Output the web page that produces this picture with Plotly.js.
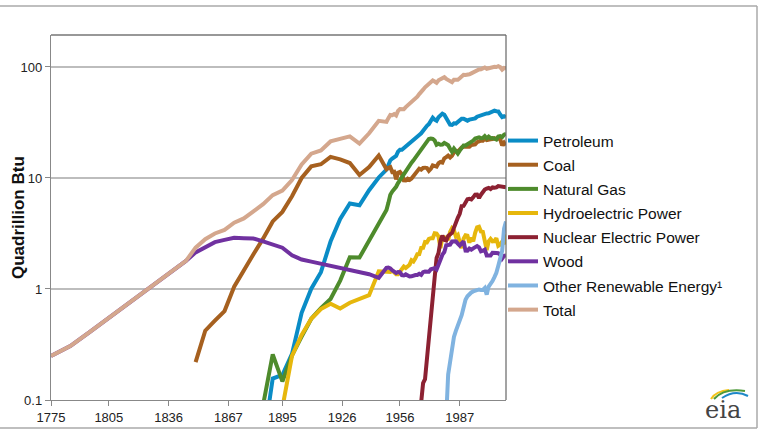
<!DOCTYPE html>
<html>
<head>
<meta charset="utf-8">
<script src="https://cdn.plot.ly/plotly-3.0.1.min.js"></script>
<style>html,body{margin:0;padding:0;background:#fff;}#chart{width:758px;height:432px;}</style>
</head>
<body>
<div id="chart"></div>
<script>
// ---- Years ----
const yearsEarly = [1775, 1785, 1795, 1805, 1815, 1825, 1835, 1845];
const yearsMid = [1850, 1855, 1860, 1865, 1870, 1875, 1880, 1885, 1890, 1895, 1900, 1905, 1910, 1915, 1920, 1925, 1930, 1935, 1940, 1945];
const yearsAnnual = [];
for (let y = 1949; y <= 2011; y++) yearsAnnual.push(y);

// ---- Tick labels ----
const xTickYears = [1775, 1805, 1836, 1867, 1895, 1926, 1956, 1987];
const yTickVals = [0.1, 1, 10, 100];
const yTickText = ['0.1', '1', '10', '100'];

// ---- Series names ----
const seriesNames = ['Petroleum', 'Coal', 'Natural Gas', 'Hydroelectric Power', 'Nuclear Electric Power', 'Wood', 'Other Renewable Energy\u00B9', 'Total'];

// ---- Values (quadrillion Btu) ----
const N = null;
const earlyNone = [N, N, N, N, N, N, N, N];

const petroleumMid = [N, N, 0.003, 0.010, 0.011, 0.011, 0.096, 0.040, 0.156, 0.168, 0.26, 0.610, 1.007, 1.418, 2.676, 4.280, 5.897, 5.675, 7.760, 10.110];
const petroleumAnnual = [
  11.883, 13.315, 14.428, 14.956, 15.556, 15.839, 17.255, 17.937, 17.932, 18.527,
  19.323, 19.919, 20.216, 21.049, 21.701, 22.301, 23.246, 24.401, 25.284, 26.979,
  28.338, 29.521, 30.561, 32.947, 34.840, 33.455, 32.731, 35.175, 37.122, 37.965,
  37.123, 34.202, 31.931, 30.232, 30.054, 31.051, 30.922, 32.196, 32.865, 34.222,
  34.211, 33.552, 32.846, 33.525, 33.745, 34.561, 34.438, 35.675, 36.159, 36.816,
  37.838, 38.262, 38.186, 38.224, 38.811, 40.292, 40.388, 39.955, 39.774, 37.280,
  35.403, 35.970, 35.3];

const coalMid = [0.219, 0.421, 0.518, 0.632, 1.048, 1.440, 2.054, 2.840, 4.062, 4.950, 6.841, 10.001, 12.714, 13.294, 15.504, 14.706, 13.639, 10.634, 12.535, 15.972];
const coalAnnual = [
  11.981, 12.347, 12.553, 11.306, 11.373, 9.715, 11.167, 11.350, 10.821, 9.533,
  9.518, 9.838, 9.623, 9.906, 10.413, 10.964, 11.581, 12.143, 11.914, 12.331,
  12.382, 12.265, 11.598, 12.077, 12.971, 12.663, 12.663, 13.584, 13.922, 13.766,
  15.040, 15.423, 15.908, 15.322, 15.894, 17.071, 17.478, 17.260, 18.008, 18.846,
  19.070, 19.173, 18.992, 19.122, 19.835, 19.909, 20.089, 21.002, 21.445, 21.656,
  21.623, 22.580, 21.914, 21.904, 22.321, 22.466, 22.797, 22.447, 22.749, 22.385,
  19.692, 20.823, 19.7];

const gasMid = [N, N, N, N, N, N, N, 0.09, 0.257, 0.147, 0.252, 0.372, 0.540, 0.673, 0.813, 1.191, 1.932, 1.919, 2.726, 3.973];
const gasAnnual = [
  5.145, 5.968, 7.049, 7.550, 7.907, 8.330, 9.000, 9.614, 10.191, 10.663,
  11.717, 12.385, 12.926, 13.731, 14.403, 15.288, 15.769, 16.995, 17.945, 19.210,
  20.678, 21.795, 22.469, 22.698, 22.512, 21.732, 19.948, 20.345, 19.931, 20.000,
  20.666, 20.235, 19.747, 18.356, 17.221, 18.394, 17.703, 16.591, 17.640, 18.448,
  19.602, 19.603, 20.033, 20.714, 21.229, 21.728, 22.671, 23.085, 23.223, 22.830,
  22.909, 23.824, 22.773, 23.558, 22.831, 22.923, 22.565, 22.239, 23.663, 23.843,
  23.416, 24.575, 24.9];

const hydroMid = [N, N, N, N, N, N, N, N, 0.022, 0.085, 0.250, 0.386, 0.539, 0.659, 0.738, 0.668, 0.752, 0.806, 0.880, 1.442];
const hydroAnnual = [
  1.425, 1.415, 1.424, 1.466, 1.413, 1.360, 1.360, 1.435, 1.516, 1.592,
  1.548, 1.608, 1.656, 1.816, 1.771, 1.886, 2.059, 2.062, 2.347, 2.349,
  2.648, 2.634, 2.824, 2.864, 2.861, 3.177, 3.155, 2.976, 2.333, 2.937,
  2.931, 2.900, 2.758, 3.266, 3.527, 3.386, 2.970, 3.071, 2.635, 2.334,
  2.837, 3.046, 3.016, 2.617, 2.892, 2.683, 3.205, 3.590, 3.640, 3.297,
  3.268, 2.811, 2.242, 2.689, 2.825, 2.690, 2.703, 2.869, 2.446, 2.511,
  2.669, 2.539, 3.1];

const nuclearMid = [N, N, N, N, N, N, N, N, N, N, N, N, N, N, N, N, N, N, N, N];
const nuclearAnnual = [
  N, N, N, N, N, N, N, N, N, 0.002,
  0.002, 0.006, 0.020, 0.026, 0.038, 0.040, 0.043, 0.064, 0.088, 0.142,
  0.154, 0.239, 0.413, 0.584, 0.910, 1.272, 1.900, 2.111, 2.702, 3.024,
  2.776, 2.739, 3.008, 3.131, 3.203, 3.553, 4.076, 4.380, 4.754, 5.587,
  5.602, 6.104, 6.422, 6.479, 6.410, 6.694, 7.075, 7.087, 6.597, 7.068,
  7.610, 7.862, 8.029, 8.145, 7.959, 8.222, 8.161, 8.215, 8.455, 8.427,
  8.356, 8.434, 8.259];

const woodEarly = [0.249, 0.306, 0.409, 0.549, 0.737, 0.990, 1.330, 1.790];
const woodMid = [2.138, 2.389, 2.641, 2.767, 2.893, 2.872, 2.851, 2.683, 2.515, 2.355, 2.015, 1.843, 1.765, 1.688, 1.610, 1.533, 1.455, 1.397, 1.358, 1.261];
const woodAnnual = [
  1.549, 1.562, 1.535, 1.474, 1.419, 1.394, 1.424, 1.416, 1.334, 1.323,
  1.353, 1.320, 1.295, 1.300, 1.323, 1.337, 1.335, 1.369, 1.340, 1.419,
  1.440, 1.431, 1.432, 1.503, 1.529, 1.540, 1.499, 1.713, 1.838, 2.038,
  2.152, 2.474, 2.496, 2.510, 2.684, 2.686, 2.687, 2.562, 2.463, 2.577,
  2.680, 2.216, 2.214, 2.313, 2.260, 2.324, 2.370, 2.437, 2.371, 2.184,
  2.214, 2.262, 2.006, 1.995, 2.002, 2.121, 2.136, 2.109, 2.098, 2.044,
  1.881, 1.986, 2.0];

const otherMid = nuclearMid;
const otherAnnual = [
  N, N, N, N, N, N, N, N, N, N,
  N, N, N, N, N, N, N, N, N, N,
  N, N, N, N, N, N, N, N, N, N,
  0.03, 0.095, 0.17, 0.22, 0.30, 0.37, 0.42, 0.46, 0.52, 0.58,
  0.68, 0.80, 0.86, 0.90, 0.93, 0.95, 0.97, 0.98, 0.99, 0.98,
  0.98, 1.02, 0.89, 1.05, 1.10, 1.18, 1.28, 1.40, 1.62, 1.85,
  2.2, 3.5, 4.05];

const totalEarly = [0.249, 0.306, 0.409, 0.549, 0.737, 0.990, 1.330, 1.790];
const totalMid = [2.357, 2.810, 3.162, 3.409, 3.952, 4.323, 5.001, 5.815, 7.012, 7.705, 9.587, 13.212, 16.565, 17.732, 21.342, 22.378, 23.675, 20.431, 25.259, 32.758];
const totalAnnual = [
  31.982, 34.616, 36.975, 36.748, 37.664, 36.639, 40.208, 41.754, 41.787, 41.645,
  43.466, 45.086, 45.738, 47.826, 49.644, 51.815, 54.015, 57.014, 58.905, 62.415,
  65.620, 67.838, 69.289, 72.676, 75.708, 73.991, 71.965, 75.975, 78.000, 79.986,
  80.903, 78.122, 76.168, 73.157, 73.039, 76.714, 76.491, 76.756, 79.173, 82.819,
  84.944, 84.652, 84.607, 85.956, 87.601, 89.249, 91.173, 94.174, 94.761, 95.184,
  96.817, 98.975, 96.326, 97.858, 98.209, 100.351, 100.485, 99.876, 101.559, 99.531,
  94.578, 98.003, 97.3];

// ---- Build traces ----
const allYears = yearsEarly.concat(yearsMid, yearsAnnual);
const seriesValues = [
  earlyNone.concat(petroleumMid, petroleumAnnual),
  earlyNone.concat(coalMid, coalAnnual),
  earlyNone.concat(gasMid, gasAnnual),
  earlyNone.concat(hydroMid, hydroAnnual),
  earlyNone.concat(nuclearMid, nuclearAnnual),
  woodEarly.concat(woodMid, woodAnnual),
  earlyNone.concat(otherMid, otherAnnual),
  totalEarly.concat(totalMid, totalAnnual)
];
const colors = ['#0A8CC6', '#A6601F', '#4E8B2C', '#E6B70C', '#8C2132', '#7031A0', '#80B3E0', '#D4A78D'];

const traces = seriesNames.map((name, i) => ({
  type: 'scatter', mode: 'lines', name: name,
  x: allYears, y: seriesValues[i],
  line: {color: colors[i], width: 4},
  connectgaps: false,
  legendgroup: 'g' + i,
  hoverinfo: 'x+y+name'
}));

// ---- Layout helpers (pixel -> paper) ----
const L = 51, R = 506, T = 35, B = 400;
const px = v => (v - L) / (R - L);
const py = v => (B - v) / (B - T);

const FONT = 'Liberation Sans, Arial, Helvetica, sans-serif';

const shapes = [
  // plot area top and right borders
  {type: 'line', xref: 'paper', yref: 'paper', x0: 0, x1: 1, y0: 1, y1: 1, line: {color: '#333', width: 1.2}},
  {type: 'line', xref: 'paper', yref: 'paper', x0: 1, x1: 1, y0: 0, y1: 1, line: {color: '#666', width: 1.2}},
  // outer frame
  {type: 'line', xref: 'paper', yref: 'paper', x0: px(0), x1: px(757), y0: py(6), y1: py(6), line: {color: '#aaa', width: 1.5}},
  {type: 'line', xref: 'paper', yref: 'paper', x0: px(757), x1: px(757), y0: py(6), y1: py(428), line: {color: '#aaa', width: 1.5}},
  {type: 'line', xref: 'paper', yref: 'paper', x0: px(0), x1: px(757), y0: py(428), y1: py(428), line: {color: '#aaa', width: 1.5}},
  // eia logo swooshes
  {type: 'path', xref: 'paper', yref: 'paper', line: {color: '#F2C318', width: 2},
   path: `M${px(711)},${py(399)} Q${px(716)},${py(391)} ${px(729)},${py(390)}`},
  {type: 'path', xref: 'paper', yref: 'paper', line: {color: '#4E9A3A', width: 2},
   path: `M${px(714)},${py(399)} Q${px(724)},${py(388)} ${px(745)},${py(391)}`},
  {type: 'path', xref: 'paper', yref: 'paper', line: {color: '#1E88C8', width: 2},
   path: `M${px(722)},${py(398)} Q${px(735)},${py(389)} ${px(748)},${py(396)}`}
];

const annotations = [
  {xref: 'paper', yref: 'paper', x: px(18), y: py(218), text: '<b>Quadrillion Btu</b>', textangle: -90,
   showarrow: false, font: {family: FONT, size: 17, color: '#111'}, xanchor: 'center', yanchor: 'middle'},
  {xref: 'paper', yref: 'paper', x: px(723), y: py(410), text: 'eia', showarrow: false,
   font: {family: 'DejaVu Serif, Liberation Serif, serif', size: 24, color: '#444'}, xanchor: 'center', yanchor: 'middle'}
];

const layout = {
  width: 758, height: 432,
  margin: {l: L, r: 758 - R, t: T, b: 432 - B},
  paper_bgcolor: '#ffffff', plot_bgcolor: '#ffffff',
  showlegend: true,
  legend: {
    x: px(503), xanchor: 'left', y: py(124), yanchor: 'top',
    font: {family: FONT, size: 15.5, color: '#111'},
    bgcolor: 'rgba(0,0,0,0)', borderwidth: 0,
    traceorder: 'grouped', tracegroupgap: 1, itemclick: false
  },
  xaxis: {
    type: 'linear', range: [1775, 2011],
    tickmode: 'array', tickvals: xTickYears, ticktext: xTickYears.map(String),
    ticks: 'outside', ticklen: 5, tickcolor: '#888', tickwidth: 1,
    showline: true, linecolor: '#888', linewidth: 1.2,
    showgrid: false, zeroline: false,
    tickfont: {family: FONT, size: 13, color: '#222'}
  },
  yaxis: {
    type: 'log', range: [-1, 2.288],
    tickmode: 'array', tickvals: yTickVals, ticktext: yTickText,
    ticks: 'outside', ticklen: 5, tickcolor: '#888', tickwidth: 1,
    showline: true, linecolor: '#888', linewidth: 1.2,
    showgrid: true, gridcolor: '#bdbdbd', gridwidth: 1.5,
    zeroline: false,
    tickfont: {family: FONT, size: 13, color: '#222'}
  },
  shapes: shapes,
  annotations: annotations
};

Plotly.newPlot('chart', traces, layout, {displayModeBar: false, staticPlot: true});
</script>
</body>
</html>
